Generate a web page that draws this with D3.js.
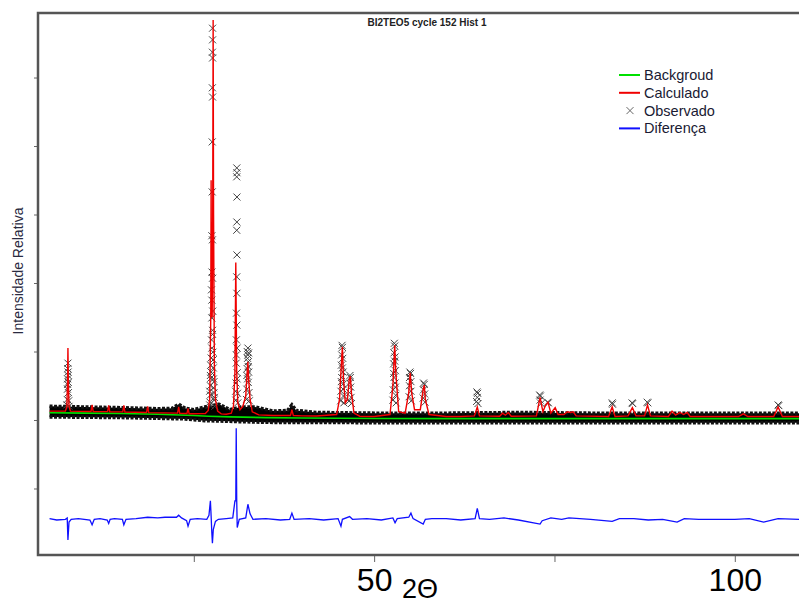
<!DOCTYPE html>
<html>
<head>
<meta charset="utf-8">
<script src="https://cdn.jsdelivr.net/npm/d3@7"></script>
<style>
  body { margin: 0; background: #fff; }
  svg { display: block; font-family: Arial, "Liberation Sans", sans-serif; }
</style>
</head>
<body>
<div id="chart-container" style="width:799px;height:604px"></div>
<script>
var width = 799,
    height = 604;

// 2-theta ticks, only 50 and 100 carry a label
var xTicks = [25, 50, 75, 100];
var yTicks = [-1000, 0, 1000, 2000, 3000, 4000, 5000];

var legendNames = ["Backgroud", "Calculado", "Observado", "Diferença"];

// background, [2theta, counts]
var background = [[5, 105], [10, 100], [15, 95], [20, 85], [25, 65], [27, 55], [30, 45], [35, 35],
    [40, 30], [50, 22], [60, 20], [80, 20], [109, 20]];

// calculated profile, [2theta, counts]
var calculated = [[5, 130], [7.2, 130], [7.4, 200], [7.5, 600], [7.55, 1050], [7.6, 600], [7.7, 200], [7.9, 130],
    [10.75, 125], [10.9, 220], [11.05, 125], [13.05, 122], [13.2, 215], [13.35, 120], [15.15, 118], [15.3, 215], [15.45, 116],
    [18.45, 110], [18.6, 200], [18.75, 108], [22.75, 100], [22.9, 190], [23.05, 98], [24.05, 94], [24.2, 170], [24.35, 92],
    [26.6, 95], [27.0, 140], [27.2, 300], [27.35, 1500], [27.4, 3500], [27.45, 1800], [27.55, 1500], [27.62, 3000],
    [27.68, 5840], [27.74, 3000], [27.85, 800], [28.0, 300], [28.3, 130], [28.8, 90],
    [29.5, 85], [30.2, 100], [30.5, 200], [30.7, 700], [30.82, 2300], [30.95, 700], [31.1, 250], [31.4, 150],
    [31.8, 200], [32.2, 350], [32.4, 700], [32.5, 850], [32.6, 600], [32.8, 300], [33.1, 120], [34, 75], [36, 65],
    [38.4, 65], [38.6, 150], [38.8, 65], [40, 60], [42, 58], [44.8, 80], [45.2, 300], [45.5, 900], [45.6, 1070],
    [45.75, 600], [46.0, 250], [46.3, 300], [46.55, 600], [46.7, 640], [46.85, 400], [47.2, 100], [48, 55], [50, 52],
    [52.2, 80], [52.6, 500], [52.85, 1090], [53.0, 700], [53.4, 120], [54.3, 100], [54.8, 400], [55.0, 690], [55.2, 400],
    [55.6, 150], [56.4, 150], [56.8, 450], [56.95, 510], [57.1, 300], [57.6, 80], [60, 52], [62, 50], [63.9, 60],
    [64.3, 190], [64.6, 60], [67.4, 55], [67.8, 100], [68.2, 70], [68.6, 110], [69, 55], [72.5, 60], [73.0, 330],
    [73.4, 120], [73.7, 200], [74.1, 260], [74.5, 100], [75.1, 180], [75.5, 80], [76.3, 80], [76.8, 120], [77.2, 110],
    [77.6, 120], [78, 60], [82.5, 52], [83.0, 190], [83.4, 52], [85.2, 60], [85.8, 180], [86.3, 60], [87.5, 60],
    [87.9, 220], [88.3, 60], [90.8, 52], [91.3, 130], [91.8, 70], [92.4, 110], [92.9, 80], [93.4, 110], [93.8, 52],
    [100.5, 50], [101.2, 90], [101.8, 50], [105.4, 52], [106.0, 190], [106.6, 52], [109, 50]];

// noise band of the observed points near the baseline: 2theta, upper, lower
var bandT = [5, 10, 15, 20, 22, 22.9, 23.8, 25, 26.5, 28.5, 30, 31.5, 33.5, 36, 38, 38.6, 39.2, 42, 50, 60, 70, 80, 90, 100, 109];
var bandHi = [200, 190, 180, 165, 170, 230, 170, 150, 190, 230, 150, 190, 190, 130, 140, 220, 140, 110, 100, 100, 110, 100, 100, 100, 100];
var bandLo = [45, 40, 35, 25, 20, 20, 15, 5, -10, -15, -20, -25, -30, -35, -35, -35, -35, -35, -40, -40, -40, -40, -40, -40, -40];

// observed points standing out of the band, [2theta, counts]
var observed = [
    [7.45, 300], [7.48, 450], [7.5, 600], [7.52, 750], [7.55, 830], [7.57, 700], [7.6, 550], [7.62, 400], [7.65, 280],
    [7.4, 220], [7.7, 200], [7.5, 520], [7.58, 650],
    [27.6, 5720], [27.6, 5550], [27.58, 5370], [27.6, 5285], [27.57, 4850], [27.6, 4715], [27.55, 4060], [27.55, 3330],
    [27.5, 2690], [27.58, 2630], [27.52, 2160], [27.6, 2070], [27.5, 1750], [27.62, 1590], [27.5, 1490], [27.6, 1310],
    [27.45, 1170], [27.65, 990], [27.4, 905], [27.7, 760], [27.35, 610], [27.75, 470], [27.3, 365], [27.8, 290],
    [27.45, 1900], [27.6, 1250], [27.5, 1050], [27.4, 700], [27.72, 600], [27.3, 500], [27.8, 400], [27.25, 260],
    [27.35, 800], [27.7, 880], [27.3, 650], [27.8, 560], [27.2, 420], [27.85, 330], [27.2, 220], [27.9, 200],
    [30.96, 3680], [30.98, 3610], [30.95, 3550], [30.98, 3255], [30.97, 2890], [30.95, 2770], [30.98, 2410],
    [30.95, 2090], [30.97, 1850], [30.92, 1560], [30.97, 1385], [30.9, 1170], [31.0, 1050], [30.88, 830],
    [31.02, 690], [30.85, 540], [31.05, 390], [30.82, 290], [30.9, 950], [31.0, 600], [30.8, 420], [31.1, 250],
    [32.4, 1000], [32.5, 1050], [32.6, 980], [32.45, 900], [32.55, 850], [32.4, 750], [32.6, 700], [32.45, 600],
    [32.55, 550], [32.35, 450], [32.65, 400], [32.3, 300], [32.7, 280], [32.5, 950], [32.55, 780], [32.35, 650],
    [45.55, 1090], [45.6, 1060], [45.5, 950], [45.65, 900], [45.45, 800], [45.7, 700], [45.5, 620], [45.65, 520],
    [45.4, 420], [45.75, 350], [45.35, 280], [45.8, 250], [45.6, 760], [45.45, 560], [45.7, 450],
    [46.65, 650], [46.7, 620], [46.6, 540], [46.75, 480], [46.6, 400], [46.8, 330], [46.55, 280], [46.85, 240],
    [52.8, 1120], [52.85, 1080], [52.75, 980], [52.9, 920], [52.7, 820], [52.95, 720], [52.75, 620], [52.9, 540],
    [52.65, 440], [53.0, 360], [52.6, 290], [53.05, 250], [52.85, 860], [52.7, 680], [52.95, 480],
    [54.95, 700], [55.05, 680], [54.9, 620], [55.1, 560], [54.9, 500], [55.1, 420], [54.85, 340], [55.15, 280],
    [56.85, 540], [56.95, 520], [56.85, 440], [57.0, 380], [56.8, 320], [57.05, 260],
    [64.25, 410], [64.35, 390], [64.3, 330], [64.2, 270], [64.4, 240],
    [72.95, 365], [73.05, 350], [73.0, 290], [73.15, 240], [74.05, 260], [74.15, 250],
    [83.0, 250], [83.05, 230], [85.75, 250], [85.85, 240], [87.85, 260], [87.95, 250], [106.0, 220], [106.1, 210]];

// difference obs - calc, [2theta, counts], drawn below the pattern
var diffOffset = -1450;
var difference = [[5, 10], [6, -10], [7.2, 0], [7.45, 20], [7.55, -300], [7.7, -40], [8, 0], [9, 10], [10.6, -10],
    [10.9, -80], [11.2, 0], [12, 10], [13, -10], [13.2, -60], [13.4, 0], [14, 10], [15.1, 0], [15.3, -80], [15.6, 0],
    [17, 10], [18.6, 30], [20, 20], [21, 30], [22.6, 30], [22.9, 60], [23.3, 20], [24, -20], [24.2, -100], [24.5, 0],
    [25.5, 10], [26.8, 0], [27.1, 60], [27.3, 270], [27.4, 50], [27.5, -200], [27.58, -350], [27.7, -150], [28, -30],
    [28.4, 0], [29.5, 10], [30.4, 20], [30.7, 270], [30.82, 270], [30.88, 1330], [30.95, 270], [31.02, -120],
    [31.3, 0], [32.2, 20], [32.5, 220], [32.8, 80], [33.2, 0], [35, 10], [37, -10], [38.3, 0], [38.6, 90], [38.9, 0],
    [41, 10], [43, -10], [45, 10], [45.4, -100], [45.6, 0], [46.6, 40], [47, 0], [49, 10], [51, -10], [52.6, 20],
    [52.9, -50], [53.2, 10], [54.8, 30], [55.1, 90], [55.4, 10], [56.8, -70], [57.1, 0], [58, 10], [60, 10], [62, -10],
    [64, 10], [64.3, 160], [64.6, 10], [66, 0], [68, 20], [70, -10], [73.0, -70], [73.3, -20], [74.5, 20], [76, 0],
    [77, 20], [80, 0], [83, -30], [84, 10], [86, 10], [88, -10], [90, 0], [92, -40], [93, 10], [95, 0], [98, 0],
    [100, 0], [102, 10], [104, -40], [106, 10], [109, 0]];

var xScale = d3.scaleLinear()
    .domain([3.4, 108.9])
    .range([38, 799]);

var yScale = d3.scaleLinear()
    .domain([-1971, 5942])
    .range([555, 13]);

var svg = d3.select("#chart-container").append("svg")
    .attr("width", width)
    .attr("height", height);

var line = d3.line()
    .x(d => xScale(d[0]))
    .y(d => yScale(d[1]));

// noise band, solid core with a fuzzy edge
var band = bandT.map((t, i) => ({ t: t, hi: bandHi[i], lo: bandLo[i] }));
svg.append("path")
    .datum(band)
    .attr("d", d3.area().x(d => xScale(d.t)).y0(d => yScale(d.lo)).y1(d => yScale(d.hi)))
    .attr("fill", "#000");
[d => d.hi, d => d.lo].forEach(function (edge) {
    svg.append("path")
        .datum(band)
        .attr("d", d3.line().x(d => xScale(d.t)).y(d => yScale(edge(d))))
        .attr("fill", "none")
        .attr("stroke", "#111")
        .attr("stroke-width", 3.5)
        .attr("stroke-dasharray", "3,1.5");
});

// observed crosses
svg.append("g").selectAll("path")
    .data(observed)
    .enter().append("path")
    .attr("transform", d => "translate(" + xScale(d[0]) + "," + yScale(d[1]) + ")")
    .attr("d", "M-3.5,-3.5L3.5,3.5M-3.5,3.5L3.5,-3.5")
    .attr("stroke", "#444")
    .attr("stroke-width", 1)
    .attr("fill", "none");

svg.append("path")
    .datum(background)
    .attr("d", line)
    .attr("fill", "none")
    .attr("stroke", "#00e000")
    .attr("stroke-width", 1.6);

svg.append("path")
    .datum(calculated)
    .attr("d", line)
    .attr("fill", "none")
    .attr("stroke", "#f00000")
    .attr("stroke-width", 1.4);

svg.append("path")
    .datum(difference)
    .attr("d", d3.line().x(d => xScale(d[0])).y(d => yScale(d[1] + diffOffset)))
    .attr("fill", "none")
    .attr("stroke", "#1010ff")
    .attr("stroke-width", 1.3);

// axes
var gX = svg.append("g")
    .attr("transform", "translate(0,555)")
    .call(d3.axisBottom(xScale)
        .tickValues(xTicks)
        .tickSize(7)
        .tickPadding(6)
        .tickFormat(d => d % 50 === 0 ? d : ""));
gX.select(".domain").remove();
gX.selectAll("line").attr("stroke", "#666");
gX.selectAll("text")
    .attr("font-size", 32)
    .attr("font-family", "Arial, 'Liberation Sans', sans-serif")
    .attr("fill", "#000");

var gY = svg.append("g")
    .attr("transform", "translate(38,0)")
    .call(d3.axisLeft(yScale)
        .tickValues(yTicks)
        .tickSize(4)
        .tickFormat(""));
gY.select(".domain").remove();
gY.selectAll("line").attr("stroke", "#666");

// frame
svg.append("path")
    .attr("d", "M799,13H38V555H799")
    .attr("fill", "none")
    .attr("stroke", "#555")
    .attr("stroke-width", 2.5);

svg.append("text")
    .attr("x", 427)
    .attr("y", 26)
    .attr("text-anchor", "middle")
    .attr("font-size", 10)
    .attr("font-weight", "bold")
    .attr("fill", "#222")
    .text("BI2TEO5 cycle 152 Hist 1");

svg.append("text")
    .attr("transform", "translate(23,271) rotate(-90)")
    .attr("text-anchor", "middle")
    .attr("font-size", 14)
    .attr("fill", "#2a2a40")
    .text("Intensidade Relativa");

svg.append("text")
    .attr("x", 402)
    .attr("y", 598)
    .attr("font-size", 27)
    .attr("fill", "#000")
    .text("2Θ");

// legend
var legendColors = ["#00e000", "#f00000", null, "#1010ff"];
var legend = svg.append("g").selectAll("g")
    .data(legendNames)
    .enter().append("g")
    .attr("transform", (d, i) => "translate(619," + (75 + i * 17.8) + ")");
legend.each(function (d, i) {
    var g = d3.select(this);
    if (legendColors[i]) {
        g.append("line").attr("x1", 0).attr("x2", 21)
            .attr("stroke", legendColors[i]).attr("stroke-width", 2);
    } else {
        g.append("path").attr("d", "M7.5,-3.5L14.5,3.5M7.5,3.5L14.5,-3.5")
            .attr("stroke", "#666").attr("stroke-width", 1);
    }
    g.append("text").attr("x", 25).attr("dy", "0.35em")
        .attr("font-size", 14.5).attr("fill", "#1a1a33").text(d);
});
</script>
</body>
</html>
